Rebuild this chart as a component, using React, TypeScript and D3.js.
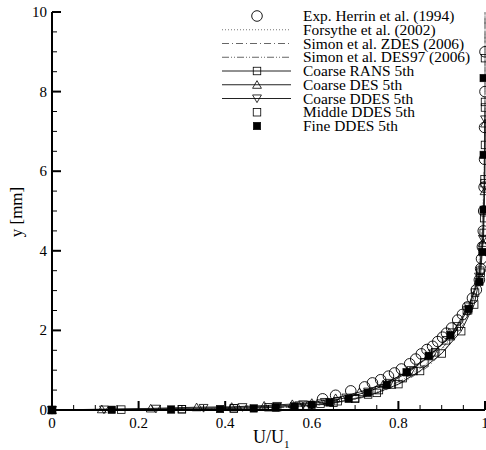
import React from 'react';
import * as d3 from 'd3';

// tick values
const xTicks = [0, 0.2, 0.4, 0.6, 0.8, 1];
const yTicks = [0, 2, 4, 6, 8, 10];

// Exp. Herrin et al. (1994)
const herrinU = [0.625, 0.655, 0.69, 0.722, 0.74, 0.759, 0.777, 0.791, 0.807, 0.826, 0.84, 0.853, 0.866, 0.879, 0.891, 0.902, 0.911, 0.923, 0.937, 0.948, 0.96, 0.971, 0.98, 0.987, 0.99, 0.992, 0.994, 0.996, 0.997, 0.998, 0.999, 0.999, 1.0, 1.0];
const herrinY = [0.28, 0.37, 0.48, 0.58, 0.68, 0.76, 0.85, 0.93, 1.03, 1.16, 1.28, 1.41, 1.52, 1.6, 1.72, 1.83, 1.93, 2.06, 2.26, 2.4, 2.59, 2.81, 3.02, 3.27, 3.55, 3.8, 4.1, 4.5, 5.0, 5.6, 6.3, 7.1, 8.0, 9.0];

// Forsythe et al. (2002)
const forsytheU = [0, 0.3, 0.5, 0.6, 0.65, 0.7, 0.75, 0.8, 0.85, 0.9, 0.94, 0.97, 0.985, 0.993, 0.997, 0.999, 1.0, 1.0];
const forsytheY = [0, 0.01, 0.04, 0.1, 0.17, 0.27, 0.42, 0.64, 0.98, 1.5, 2.1, 2.85, 3.6, 4.5, 5.6, 7.0, 8.5, 10];

// Simon et al. ZDES (2006)
const zdesU = [0, 0.35, 0.52, 0.61, 0.67, 0.72, 0.77, 0.82, 0.87, 0.91, 0.95, 0.975, 0.988, 0.995, 0.998, 1.0, 1.0];
const zdesY = [0, 0.02, 0.06, 0.12, 0.2, 0.32, 0.5, 0.75, 1.1, 1.55, 2.15, 2.85, 3.6, 4.6, 5.8, 7.5, 10];

// Simon et al. DES97 (2006)
const des97U = [0, 0.33, 0.5, 0.6, 0.66, 0.71, 0.76, 0.81, 0.86, 0.905, 0.945, 0.972, 0.987, 0.995, 0.998, 1.0, 1.0];
const des97Y = [0, 0.02, 0.06, 0.12, 0.2, 0.32, 0.5, 0.76, 1.12, 1.6, 2.2, 2.9, 3.65, 4.6, 5.8, 7.5, 10];

// Coarse RANS 5th
const ransU = [0, 0.16, 0.3, 0.42, 0.52, 0.59, 0.65, 0.7, 0.75, 0.8, 0.85, 0.9, 0.945, 0.975, 0.99, 0.997, 0.999, 1.0];
const ransY = [0, 0.01, 0.02, 0.04, 0.07, 0.11, 0.18, 0.28, 0.43, 0.65, 0.98, 1.42, 1.98, 2.65, 3.45, 4.45, 5.8, 7.6];

// Coarse DES 5th
const desU = [0, 0.115, 0.228, 0.334, 0.415, 0.49, 0.555, 0.6, 0.655, 0.71, 0.765, 0.82, 0.87, 0.92, 0.96, 0.985, 0.995, 0.999, 1.0];
const desY = [0, 0.02, 0.04, 0.07, 0.08, 0.11, 0.15, 0.18, 0.3, 0.45, 0.65, 0.95, 1.35, 1.85, 2.5, 3.25, 4.2, 5.5, 7.2];

// Coarse DDES 5th
const ddesU = [0, 0.12, 0.24, 0.35, 0.44, 0.52, 0.58, 0.63, 0.68, 0.73, 0.78, 0.83, 0.88, 0.925, 0.962, 0.986, 0.995, 0.999, 1.0];
const ddesY = [0, 0.01, 0.03, 0.05, 0.07, 0.1, 0.14, 0.2, 0.31, 0.46, 0.68, 1.0, 1.42, 1.95, 2.6, 3.35, 4.3, 5.6, 7.3];

// Middle DDES 5th
const middleU = [0, 0.3, 0.42, 0.5, 0.57, 0.62, 0.66, 0.7, 0.73, 0.755, 0.785, 0.81, 0.835, 0.86, 0.885, 0.91, 0.935, 0.958, 0.977, 0.989, 0.995, 0.998, 0.999, 1.0, 1.0, 1.0];
const middleY = [0, 0.02, 0.04, 0.07, 0.11, 0.16, 0.22, 0.3, 0.39, 0.5, 0.64, 0.8, 0.98, 1.2, 1.45, 1.75, 2.1, 2.5, 2.95, 3.5, 4.1, 4.82, 5.7, 6.66, 7.74, 8.84];

// Fine DDES 5th
const fineU = [0, 0.138, 0.275, 0.388, 0.466, 0.517, 0.56, 0.6, 0.641, 0.685, 0.729, 0.773, 0.819, 0.87, 0.92, 0.962, 0.987, 0.994, 0.997, 0.997, 0.997];
const fineY = [0, 0.005, 0.012, 0.025, 0.04, 0.06, 0.09, 0.13, 0.19, 0.28, 0.43, 0.63, 0.95, 1.36, 1.88, 2.54, 3.22, 3.97, 5.03, 6.41, 8.34];

const legendLabels = [
  'Exp. Herrin et al. (1994)',
  'Forsythe et al. (2002)',
  'Simon et al. ZDES (2006)',
  'Simon et al. DES97 (2006)',
  'Coarse RANS 5th',
  'Coarse DES 5th',
  'Coarse DDES 5th',
  'Middle DDES 5th',
  'Fine DDES 5th',
];

type Marker = 'circle' | 'square' | 'fsquare' | 'tri' | 'itri' | null;

interface Series {
  u: number[];
  y: number[];
  line: { color: string; dash?: string } | null;
  marker: Marker;
}

const series: Series[] = [
  { u: herrinU, y: herrinY, line: null, marker: 'circle' },
  { u: forsytheU, y: forsytheY, line: { color: '#777', dash: '1,2' }, marker: null },
  { u: zdesU, y: zdesY, line: { color: '#666', dash: '7,3,1,3' }, marker: null },
  { u: des97U, y: des97Y, line: { color: '#666', dash: '7,2,1,2,1,2' }, marker: null },
  { u: ransU, y: ransY, line: { color: '#222' }, marker: 'square' },
  { u: desU, y: desY, line: { color: '#222' }, marker: 'tri' },
  { u: ddesU, y: ddesY, line: { color: '#222' }, marker: 'itri' },
  { u: middleU, y: middleY, line: null, marker: 'square' },
  { u: fineU, y: fineY, line: null, marker: 'fsquare' },
];

const FONT = '"Liberation Serif", "Times New Roman", serif';

function MarkerShape({ type, x, y }: { type: Marker; x: number; y: number }) {
  if (!type) return null;
  if (type === 'circle') {
    return <circle cx={x} cy={y} r={5.3} fill="none" stroke="#000" strokeWidth={0.9} />;
  }
  if (type === 'square' || type === 'fsquare') {
    const s = 7.5;
    return (
      <rect
        x={x - s / 2}
        y={y - s / 2}
        width={s}
        height={s}
        fill={type === 'fsquare' ? '#000' : 'none'}
        stroke="#000"
        strokeWidth={type === 'fsquare' ? 0.5 : 0.8}
      />
    );
  }
  const sym = d3.symbol().type(d3.symbolTriangle).size(34)() || '';
  const rot = type === 'itri' ? 180 : 0;
  return (
    <path
      d={sym}
      transform={`translate(${x},${y + (type === 'itri' ? -1 : 1)}) rotate(${rot})`}
      fill="none"
      stroke="#000"
      strokeWidth={0.8}
    />
  );
}

export default function App() {
  const width = 486;
  const height = 450;
  const x = d3.scaleLinear().domain([0, 1]).range([52, 485]);
  const y = d3.scaleLinear().domain([0, 10]).range([410, 12]);

  const line = d3
    .line<[number, number]>()
    .x((d) => x(d[0]))
    .y((d) => y(d[1]));

  const xMinor = d3.range(0, 1.0001, 0.05).filter((v) => Math.abs(v * 5 - Math.round(v * 5)) > 1e-6);
  const yMinor = d3.range(0, 10.0001, 0.5).filter((v) => Math.abs(v / 2 - Math.round(v / 2)) > 1e-6);

  const legX0 = 222;
  const legX1 = 291;
  const legSym = 257;
  const legText = 303;
  const legRow = (i: number) => 20 + i * 13.75;

  return (
    <svg
      width={width}
      height={height}
      style={{ position: 'absolute', left: 0, top: 0, background: '#fff' }}
      fontFamily={FONT}
    >
      <defs>
        <clipPath id="plot">
          <rect x={x(0)} y={y(10)} width={x(1) - x(0) + 6} height={y(0) - y(10)} />
        </clipPath>
      </defs>

      {/* data lines */}
      <g clipPath="url(#plot)">
        {series.map((s, i) =>
          s.line ? (
            <path
              key={'l' + i}
              d={line(s.u.map((u, k) => [u, s.y[k]] as [number, number])) || ''}
              fill="none"
              stroke={s.line.color}
              strokeWidth={1}
              strokeDasharray={s.line.dash}
            />
          ) : null
        )}
      </g>

      {/* markers */}
      {series.map((s, i) =>
        s.marker ? (
          <g key={'m' + i}>
            {s.u.map((u, k) => (
              <MarkerShape key={k} type={s.marker} x={x(u)} y={y(s.y[k])} />
            ))}
          </g>
        ) : null
      )}

      {/* axes */}
      <line x1={x(0)} x2={x(1)} y1={y(0)} y2={y(0)} stroke="#000" strokeWidth={2} />
      <line x1={x(0)} x2={x(0)} y1={y(0)} y2={y(10)} stroke="#000" strokeWidth={2} />
      {xTicks.map((t) => (
        <g key={'xt' + t}>
          <line x1={x(t)} x2={x(t)} y1={y(0)} y2={y(0) - 9} stroke="#000" strokeWidth={2} />
          <text x={x(t)} y={y(0) + 18} fontSize={15} textAnchor="middle">
            {t}
          </text>
        </g>
      ))}
      {xMinor.map((t) => (
        <line key={'xm' + t} x1={x(t)} x2={x(t)} y1={y(0)} y2={y(0) - 5} stroke="#000" strokeWidth={1} />
      ))}
      {yTicks.map((t) => (
        <g key={'yt' + t}>
          <line x1={x(0)} x2={x(0) + 9} y1={y(t)} y2={y(t)} stroke="#000" strokeWidth={2} />
          <text x={x(0) - 5} y={y(t) + 5} fontSize={15} textAnchor="end">
            {t}
          </text>
        </g>
      ))}
      {yMinor.map((t) => (
        <line key={'ym' + t} x1={x(0)} x2={x(0) + 5} y1={y(t)} y2={y(t)} stroke="#000" strokeWidth={1} />
      ))}

      {/* axis titles */}
      <text x={253} y={443} fontSize={18}>
        U/U<tspan fontSize={11} dy={5}>1</tspan>
      </text>
      <text transform={`translate(22,212) rotate(-90)`} fontSize={17} textAnchor="middle">
        y [mm]
      </text>

      {/* legend */}
      {series.map((s, i) => (
        <g key={'lg' + i}>
          {s.line && (
            <line
              x1={legX0}
              x2={legX1}
              y1={legRow(i) - 4}
              y2={legRow(i) - 4}
              stroke={s.line.color}
              strokeWidth={1}
              strokeDasharray={s.line.dash}
            />
          )}
          <MarkerShape type={s.marker} x={legSym} y={legRow(i) - 4} />
          <text x={legText} y={legRow(i) + 1} fontSize={15.4}>
            {legendLabels[i]}
          </text>
        </g>
      ))}
    </svg>
  );
}
